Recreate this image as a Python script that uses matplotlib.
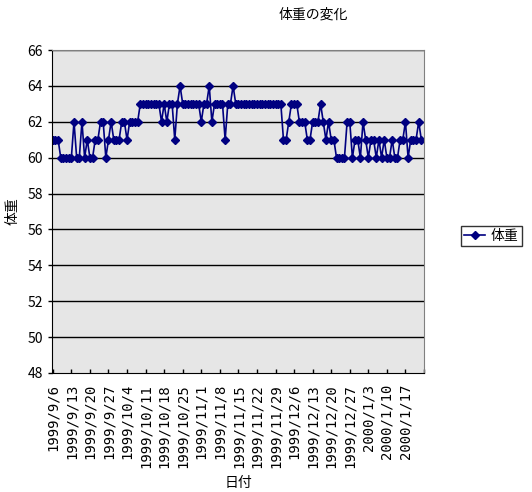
import matplotlib
matplotlib.use("Agg")
import matplotlib.pyplot as plt
import matplotlib.dates as mdates
import numpy as np
import datetime as dt

plt.rcParams['font.family'] = ['Noto Sans CJK JP', 'DejaVu Sans']

# daily weight from 1999/9/6
start = dt.date(1999, 9, 6)
weights = [61, 61, 61, 60, 60, 60, 60, 60, 62, 60,
           60, 62, 60, 61, 60, 60, 61, 61, 62, 62,
           60, 61, 62, 61, 61, 61, 62, 62, 61, 62,
           62, 62, 62, 63, 63, 63, 63, 63, 63, 63,
           63, 62, 63, 62, 63, 63, 61, 63, 64, 63,
           63, 63, 63, 63, 63, 63, 62, 63, 63, 64,
           62, 63, 63, 63, 63, 61, 63, 63, 64, 63,
           63, 63, 63, 63, 63, 63, 63, 63, 63, 63,
           63, 63, 63, 63, 63, 63, 63, 61, 61, 62,
           63, 63, 63, 62, 62, 62, 61, 61, 62, 62,
           62, 63, 62, 61, 62, 61, 61, 60, 60, 60,
           60, 62, 62, 60, 61, 61, 60, 62, 61, 60,
           61, 61, 60, 61, 60, 61, 60, 60, 61, 60,
           60, 61, 61, 62, 60, 61, 61, 61, 62, 61]
dates = [start + dt.timedelta(days=i) for i in range(len(weights))]

tick_dates = [start + dt.timedelta(days=7 * k) for k in range(21)]
tick_labels = [f"{d.year}/{d.month}/{d.day}" for d in tick_dates[:-1]] + [""]

fig = plt.figure(figsize=(5.32, 4.92), dpi=100)
ax = fig.add_axes([52 / 532, 1 - 373 / 492, 372 / 532, 323 / 492])
ax.set_facecolor('#e6e6e6')

ax.plot(dates, weights, color='#000080', marker='D', markersize=3.8,
        linewidth=1.2, label='体重')

ax.set_ylim(48, 66)
ax.set_yticks(np.arange(48, 67, 2))
ax.set_xlim(mdates.date2num(start) - 0.3, mdates.date2num(tick_dates[-1]))
ax.set_xticks(tick_dates)
ax.set_xticklabels(tick_labels, rotation=90, va='top', ha='center',
                   fontsize=10, family='DejaVu Sans Mono')
ax.tick_params(axis='x', direction='in', length=3, width=1, pad=8)
ax.tick_params(axis='y', direction='out', length=3, width=1, labelsize=10)

for v in range(50, 67, 2):
    ax.axhline(v, color='black', linewidth=1, zorder=0)

ax.spines['left'].set_color('black')
ax.spines['bottom'].set_color('black')
ax.spines['top'].set_color('#808080')
ax.spines['right'].set_color('#808080')

ax.set_xlabel('日付', fontsize=10, labelpad=6)
ax.set_ylabel('体重', fontsize=10, labelpad=6)

fig.text(313 / 532, 1 - 15 / 492, '体重の変化', ha='center', va='center', fontsize=10)

fig.legend(loc='center left', bbox_to_anchor=(461 / 532, 1 - 236 / 492),
           frameon=True, fancybox=False, edgecolor='black', fontsize=10,
           handlelength=1.5, handletextpad=0.4, borderpad=0.25,
           borderaxespad=0)

fig.savefig('out.png', dpi=100)
